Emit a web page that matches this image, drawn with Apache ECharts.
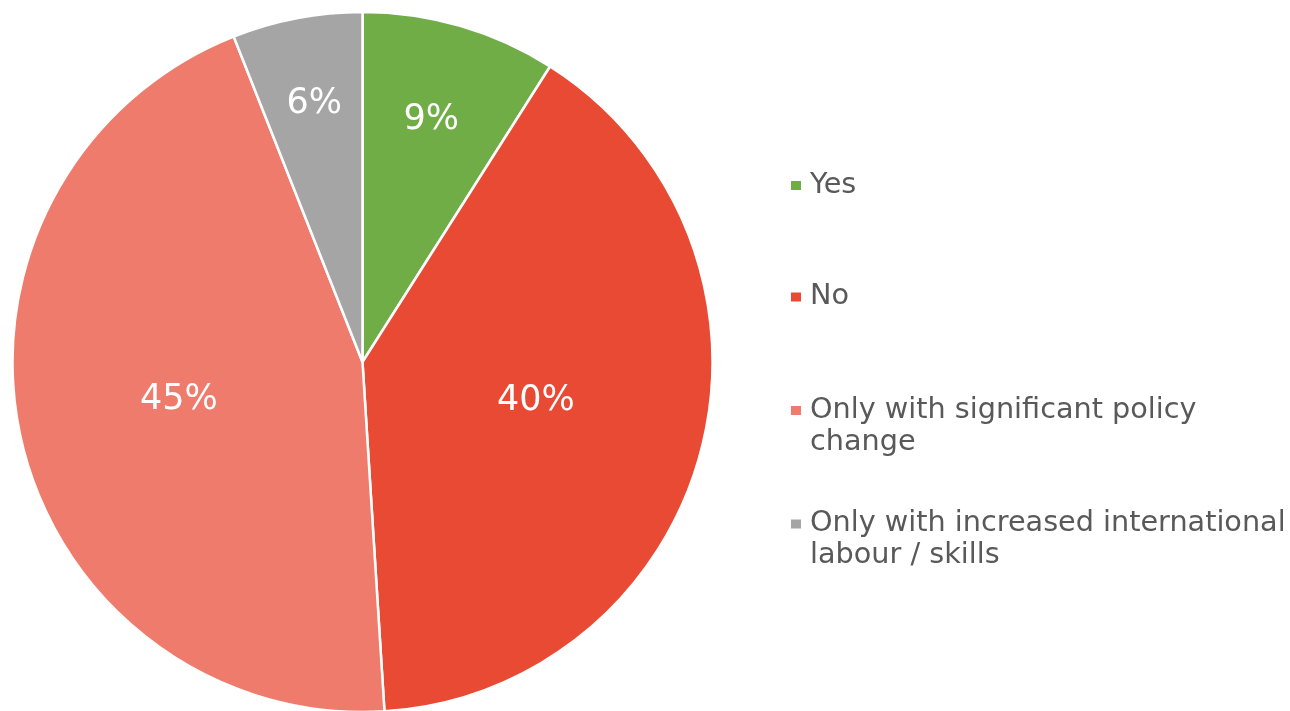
<!DOCTYPE html>
<html>
<head>
<meta charset="utf-8">
<script src="https://cdn.jsdelivr.net/npm/echarts@6/dist/echarts.min.js"></script>
<style>html,body{margin:0;padding:0;background:#fff;}#c{width:1290px;height:711px;}</style>
</head>
<body>
<div id="c"></div>
<script>
const categories = ['Yes', 'No', 'Only with significant policy\nchange', 'Only with increased international\nlabour / skills'];
const values = [9, 40, 45, 6];
const colors = ['#70AD47', '#E84A34', '#EF7B6C', '#A5A5A5'];
const labelOffsets = [[19, -71], [1, -5], [-10, -1], [-15, -83]];
const legendTops = [169.5, 281, 362.5, 476];
const FONT = '"DejaVu Sans"';

const chart = echarts.init(document.getElementById('c'));
const legends = categories.map((name, i) => ({
  orient: 'vertical',
  left: 789,
  top: legendTops[i],
  padding: 0,
  itemWidth: 12,
  itemHeight: 11,
  icon: 'rect',
  selectedMode: false,
  data: [name],
  formatter: n => (n.indexOf('\n') >= 0 ? ' \n' + n : n),
  textStyle: { color: '#595959', fontSize: 28.7, lineHeight: 32, fontFamily: FONT, padding: [0, 0, 0, 3] }
}));

chart.setOption({
  animation: false,
  color: colors,
  legend: legends,
  series: [{
    type: 'pie',
    center: [362.5, 362],
    radius: 350,
    startAngle: 90,
    clockwise: true,
    itemStyle: { borderColor: '#fff', borderWidth: 2.5 },
    label: {
      show: true,
      position: 'inside',
      color: '#fff',
      fontSize: 35,
      fontFamily: FONT,
      formatter: p => p.value + '%'
    },
    labelLine: { show: false },
    data: categories.map((name, i) => ({
      name: name,
      value: values[i],
      label: { offset: labelOffsets[i] }
    }))
  }]
});
</script>
</body>
</html>
